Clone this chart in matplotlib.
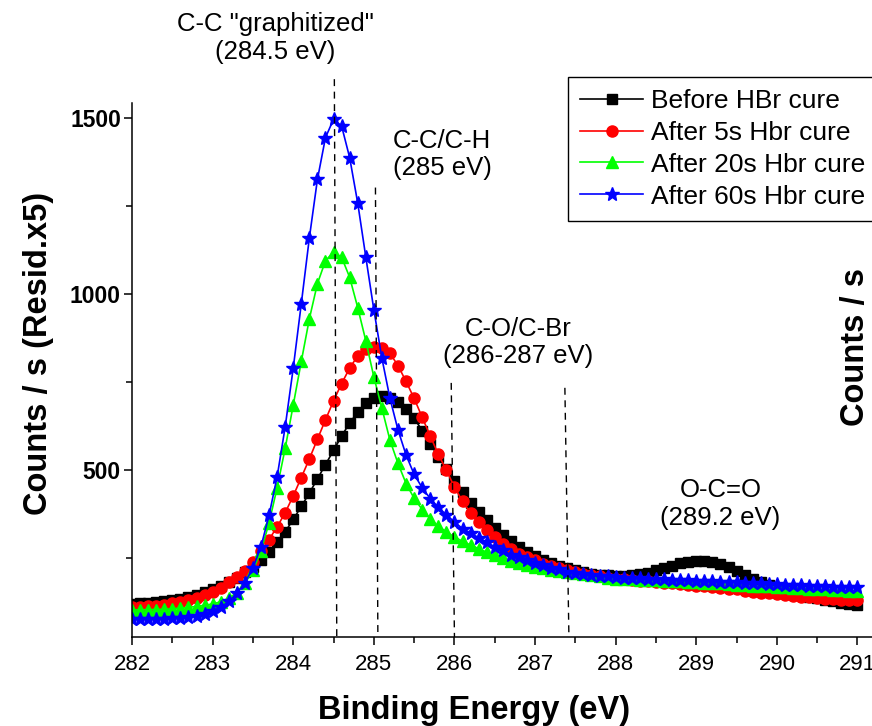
import matplotlib
matplotlib.use("Agg")
import matplotlib.pyplot as plt
from matplotlib.ticker import MultipleLocator

plt.rcParams['font.family'] = ['Liberation Sans', 'DejaVu Sans']

# binding energy grid, 282.0 .. 291.0 eV in 0.1 eV steps
energy = [round(282.0 + 0.1 * i, 1) for i in range(91)]

before_hbr = [
    120, 122, 124, 126, 128, 131, 135, 140, 146, 153,
    162, 171, 182, 195, 210, 225, 245, 268, 295, 325,
    360, 397, 435, 475, 516, 556, 597, 634, 665, 690,
    704, 710, 706, 694, 675, 648, 612, 575, 538, 503,
    470, 438, 408, 382, 358, 336, 316, 298, 282, 268,
    256, 245, 236, 228, 221, 215, 210, 206, 203, 201,
    200, 200, 201, 204, 209, 215, 222, 229, 235, 239,
    241, 241, 238, 232, 224, 214, 203, 192, 182, 173,
    165, 158, 152, 146, 141, 136, 131, 127, 123, 119,
    116,
]
after_5s = [
    110, 111, 113, 115, 118, 122, 126, 131, 137, 144,
    153, 166, 181, 196, 213, 240, 271, 303, 339, 379,
    427, 479, 532, 588, 643, 697, 746, 790, 825, 843,
    850, 846, 832, 797, 752, 704, 650, 597, 545, 500,
    452, 412, 378, 353, 329, 310, 291, 277, 263, 253,
    244, 234, 227, 221, 216, 211, 206, 202, 198, 195,
    192, 190, 188, 186, 184, 182, 180, 178, 176, 174,
    172, 170, 168, 166, 163, 161, 158, 155, 152, 150,
    147, 145, 143, 141, 139, 137, 135, 134, 132, 131,
    130,
]
after_20s = [
    103, 103, 104, 104, 105, 106, 108, 110, 113, 116,
    120, 126, 136, 152, 178, 215, 270, 350, 450, 562,
    685, 809, 930, 1030, 1095, 1120, 1105, 1048, 962, 868,
    765, 676, 585, 519, 462, 420, 388, 362, 340, 325,
    310, 298, 287, 277, 267, 258, 250, 243, 237, 231,
    226, 221, 217, 213, 210, 207, 204, 201, 198, 195,
    192, 191, 190, 189, 188, 187, 186, 185, 184, 183,
    182, 180, 179, 178, 176, 175, 174, 172, 171, 170,
    169, 167, 166, 165, 163, 162, 161, 160, 159, 158,
    157,
]
after_60s = [
    76, 76, 77, 77, 78, 79, 80, 82, 85, 91,
    100, 111, 127, 150, 180, 222, 283, 372, 481, 623,
    790, 973, 1160, 1326, 1445, 1497, 1478, 1388, 1259, 1106,
    956, 818, 704, 614, 543, 488, 450, 419, 395, 373,
    353, 334, 321, 308, 295, 282, 272, 260, 253, 244,
    236, 230, 223, 218, 212, 208, 205, 202, 200, 198,
    196, 195, 194, 193, 192, 191, 190, 189, 188, 187,
    186, 185, 184, 183, 182, 181, 180, 179, 178, 177,
    176, 175, 174, 173, 172, 171, 170, 169, 168, 167,
    167,
]

series_labels = ["Before HBr cure", "After 5s Hbr cure",
                 "After 20s Hbr cure", "After 60s Hbr cure"]

# dashed reference lines: x at top, x at bottom, y of top end
ref_x_top = [284.51, 285.02, 285.96, 287.37]
ref_x_bot = [284.54, 285.05, 286.00, 287.42]
ref_y_top = [1611, 1303, 748, 734]

peak_labels = ['C-C "graphitized"\n(284.5 eV)', 'C-C/C-H\n(285 eV)',
               'C-O/C-Br\n(286-287 eV)', 'O-C=O\n(289.2 eV)']
peak_label_x = [283.78, 285.85, 286.79, 289.30]
peak_label_y = [1728, 1397, 863, 403]

fig = plt.figure(figsize=(8.72, 7.26), dpi=100)
ax = fig.add_axes([0.1514, 0.1226, 0.8486, 0.7354])

styles = [("black", "s", 7.5), ("red", "o", 8.0),
          ("#00ff00", "^", 8.5), ("blue", "*", 10.5)]
for ys, lab, (c, m, ms) in zip([before_hbr, after_5s, after_20s, after_60s],
                               series_labels, styles):
    ax.plot(energy, ys, color=c, marker=m, markersize=ms, markeredgecolor=c,
            markerfacecolor=c, linewidth=1.2, label=lab)

ylo = 26
for xt, xb, yt in zip(ref_x_top, ref_x_bot, ref_y_top):
    ax.plot([xt, xb], [yt, ylo], color="black", linewidth=1.0,
            linestyle=(0, (5, 4)), clip_on=False)

for txt, tx, ty in zip(peak_labels, peak_label_x, peak_label_y):
    ax.text(tx, ty, txt, ha="center", va="center", fontsize=18.5,
            linespacing=1.2, clip_on=False)

ax.set_xlim(282, 291.18)
ax.set_ylim(ylo, 1543)
ax.spines["top"].set_visible(False)
ax.spines["right"].set_visible(False)
for s in ("left", "bottom"):
    ax.spines[s].set_linewidth(1.1)

ax.xaxis.set_major_locator(MultipleLocator(1))
ax.xaxis.set_minor_locator(MultipleLocator(0.5))
ax.yaxis.set_major_locator(MultipleLocator(500))
ax.yaxis.set_minor_locator(MultipleLocator(250))
ax.set_yticks([500, 1000, 1500])
ax.tick_params(axis="both", which="major", direction="out", length=6, width=1.1)
ax.tick_params(axis="both", which="minor", direction="out", length=4, width=1.1)
ax.tick_params(axis="x", labelsize=16, pad=6)
ax.tick_params(axis="y", labelsize=16.5, pad=2)
for t in ax.get_yticklabels():
    t.set_fontweight("bold")

fig.text(474 / 872, 1 - 710 / 726, "Binding Energy (eV)", ha="center",
         va="center", fontsize=23.5, fontweight="bold")
fig.text(38 / 872, 1 - 353 / 726, "Counts / s (Resid.x5)", ha="center",
         va="center", rotation=90, fontsize=23.5, fontweight="bold")
fig.text(855 / 872, 1 - 347 / 726, "Counts / s", ha="center",
         va="center", rotation=90, fontsize=23.5, fontweight="bold")

leg = ax.legend(loc="upper left", bbox_to_anchor=(568 / 872, 1 - 77 / 726),
                bbox_transform=fig.transFigure, fontsize=19, frameon=True,
                fancybox=False, edgecolor="black", framealpha=1,
                handlelength=2.4, handletextpad=0.3, borderpad=0.45,
                labelspacing=0.3, borderaxespad=0)
leg.get_frame().set_linewidth(1.0)

fig.savefig("out.png", dpi=100)
